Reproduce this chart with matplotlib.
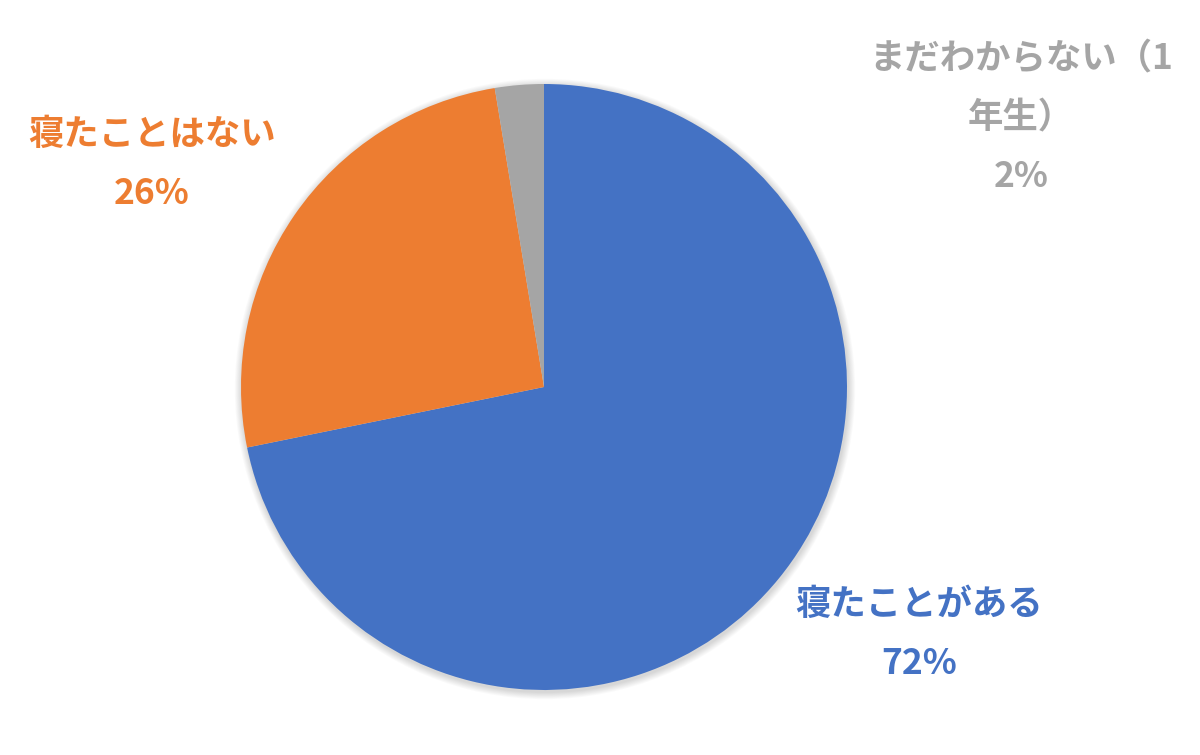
import matplotlib.pyplot as plt
from matplotlib.patches import Circle

plt.rcParams['font.family'] = ['Noto Sans CJK JP', 'DejaVu Sans']

categories = ["寝たことがある", "寝たことはない", "まだわからない（1\n年生）"]
values = [71.8, 25.6, 2.6]
pct_labels = ["72%", "26%", "2%"]
colors = ["#4472C4", "#ED7D31", "#A5A5A5"]

W, H = 1200, 755
cx, cy, r = 544, H - 387, 303
label_pos = [(919, H - 634), (152, H - 164), (1021, H - 118)]

fig = plt.figure(figsize=(12, 7.55), dpi=100)
ax = fig.add_axes([0, 0, 1, 1])
ax.set_xlim(0, W)
ax.set_ylim(0, H)
ax.set_aspect('equal')
ax.axis('off')

# soft shadow behind the pie
for k in range(8, 0, -1):
    ax.add_patch(Circle((cx + 1, cy - 2), r + k * 0.9, color='black',
                        alpha=0.018, lw=0, zorder=0))

ax.pie(values, colors=colors, startangle=90, counterclock=False,
       center=(cx, cy), radius=r, frame=True,
       wedgeprops=dict(linewidth=0))
ax.set_xlim(0, W)
ax.set_ylim(0, H)
ax.axis('off')

for cat, pct, col, (x, y) in zip(categories, pct_labels, colors, label_pos):
    ax.text(x, y, cat + "\n" + pct, color=col, fontsize=25.5, fontweight='bold',
            ha='center', va='center', multialignment='center', linespacing=1.85)

fig.savefig("out.png", dpi=100)
